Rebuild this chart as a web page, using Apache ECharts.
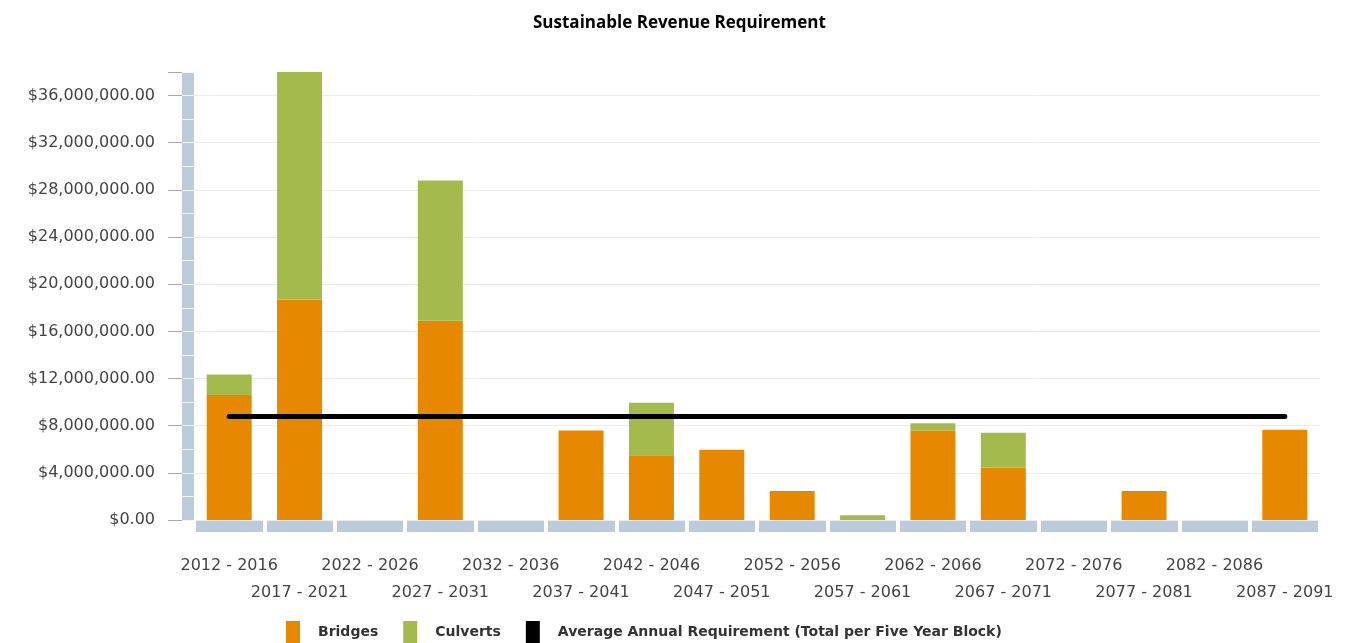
<!DOCTYPE html>
<html>
<head>
<meta charset="utf-8">
<script src="https://cdn.jsdelivr.net/npm/echarts@6/dist/echarts.min.js"></script>
<style>html,body{margin:0;padding:0;background:#fff;}#c{width:1349px;height:643px;}</style>
</head>
<body>
<div id="c"></div>
<script>
const categories = ['2012 - 2016','2017 - 2021','2022 - 2026','2027 - 2031','2032 - 2036','2037 - 2041','2042 - 2046','2047 - 2051','2052 - 2056','2057 - 2061','2062 - 2066','2067 - 2071','2072 - 2076','2077 - 2081','2082 - 2086','2087 - 2091'];
const bridges = [10600000, 18700000, 0, 16900000, 0, 7600000, 5500000, 5950000, 2450000, 0, 7600000, 4450000, 0, 2450000, 0, 7650000];
const culverts = [1750000, 19300000, 0, 11900000, 0, 0, 4450000, 0, 0, 400000, 600000, 2950000, 0, 0, 0, 0];
const averageAnnual = [8770000, 8770000, 8770000, 8770000, 8770000, 8770000, 8770000, 8770000, 8770000, 8770000, 8770000, 8770000, 8770000, 8770000, 8770000, 8770000];
const yTicks = [0, 4000000, 8000000, 12000000, 16000000, 20000000, 24000000, 28000000, 32000000, 36000000];
const yMax = 38000000;

const strip = '#bccbdc';
const fmt = v => '$' + Number(v).toLocaleString('en-US', {minimumFractionDigits: 2, maximumFractionDigits: 2});

const chart = echarts.init(document.getElementById('c'), null, {renderer: 'canvas'});
chart.setOption({
  animation: false,
  backgroundColor: '#fff',
  title: {
    text: 'Sustainable Revenue Requirement',
    left: 533, top: 15, padding: 0,
    textStyle: {fontFamily: 'Open Sans', fontWeight: 'bold', fontSize: 17, color: '#000'}
  },
  legend: {
    data: ['Bridges', 'Culverts', 'Average Annual Requirement (Total per Five Year Block)'],
    left: 286, top: 621, padding: 0,
    icon: 'rect', itemWidth: 14, itemHeight: 22, itemGap: 25,
    textStyle: {fontFamily: 'DejaVu Sans', fontWeight: 'bold', fontSize: 14, color: '#333', padding: [0, 0, 0, 13]}
  },
  grid: {left: 194, right: 29, top: 72, bottom: 123, containLabel: false},
  xAxis: [{
    type: 'category', data: categories, position: 'bottom', offset: 6,
    axisLine: {show: true, onZero: false, lineStyle: {color: strip, width: 11, cap: 'butt'}},
    axisTick: {show: false},
    axisLabel: {
      interval: 0, margin: 26, fontFamily: 'DejaVu Sans', fontSize: 16, color: '#444', lineHeight: 27,
      formatter: (v, i) => (i % 2 === 1 ? '\n' + v : v)
    },
    splitLine: {show: false}
  }, {
    type: 'category', data: categories, position: 'bottom', offset: 0,
    axisLine: {show: false, onZero: false},
    axisTick: {show: true, interval: 0, length: 12, lineStyle: {color: '#fff', width: 4}},
    axisLabel: {show: false},
    splitLine: {show: false}
  }],
  yAxis: [{
    type: 'value', min: 0, max: yMax, interval: 4000000, position: 'left', offset: 6,
    axisLine: {show: true, onZero: false, lineStyle: {color: strip, width: 12, cap: 'butt'}},
    axisTick: {show: true, length: 20, lineStyle: {color: '#aaa', width: 1}},
    axisLabel: {
      margin: 33, fontFamily: 'DejaVu Sans', fontSize: 16, color: '#444',
      customValues: yTicks, formatter: fmt
    },
    splitLine: {show: true, showMaxLine: false, lineStyle: {color: '#ececec', width: 1}}
  }, {
    type: 'value', min: 0, max: yMax, interval: 2000000, position: 'left', offset: 0,
    axisLine: {show: false, onZero: false},
    axisTick: {show: true, length: 12, lineStyle: {color: '#f2f5f9', width: 1}},
    axisLabel: {show: false},
    splitLine: {show: false}
  }],
  series: [{
    name: 'Bridges', type: 'bar', stack: 'total', data: bridges, barWidth: 45,
    itemStyle: {color: '#e68900'}
  }, {
    name: 'Culverts', type: 'bar', stack: 'total', data: culverts, barWidth: 45,
    itemStyle: {color: '#a5ba4c'}
  }, {
    name: 'Average Annual Requirement (Total per Five Year Block)', type: 'line', data: averageAnnual,
    showSymbol: false, symbol: 'none', z: 5,
    lineStyle: {color: '#000', width: 5, cap: 'round'}, itemStyle: {color: '#000'}
  }]
});
</script>
</body>
</html>
